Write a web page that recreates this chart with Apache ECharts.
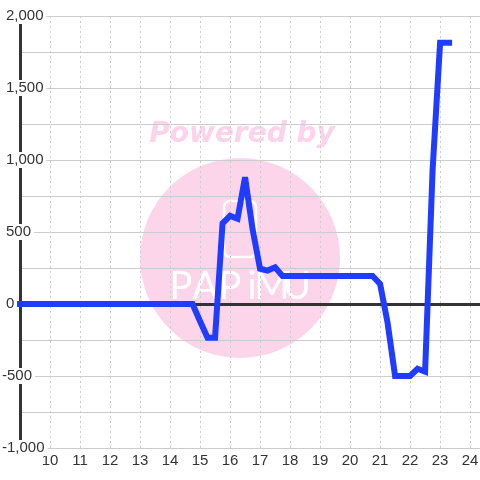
<!DOCTYPE html>
<html>
<head>
<meta charset="utf-8">
<script src="https://cdn.jsdelivr.net/npm/echarts@6/dist/echarts.min.js"></script>
<style>
html,body{margin:0;padding:0;background:#fff;}
#chart{width:480px;height:480px;}
</style>
</head>
<body>
<div id="chart"></div>
<script>
// Time of day (hours) and values
var times  = [9, 14.75, 15, 15.25, 15.5, 15.75, 16, 16.25, 16.5, 16.75, 17, 17.25, 17.5, 17.75, 20.75, 21, 21.25, 21.5, 22, 22.25, 22.5, 22.75, 23, 23.3];
var values = [0, 0, -120, -235, -235, 560, 612, 592, 880, 520, 245, 232, 255, 195, 195, 140, -130, -500, -500, -450, -470, 930, 1815, 1815];
var xMin = 9, xMax = 24.33, xStep = 1;
var yMin = -1000, yMax = 2000, yStep = 500;
var logoLetters = ['P', 'A', 'P', 'i', 'M', 'U'];

var data = times.map(function (t, i) { return [t, values[i]]; });
var labelFont = 'Liberation Sans, Arial, sans-serif';

function yFmt(v) {
  var s = Math.abs(v).toLocaleString('en-US');
  if (v < 0) return '{n|-' + s + '}';
  return '{p|' + s + '}';
}

var letterX = [181, 205, 230, 252, 272, 297];
var graphics = [
  {type: 'circle', z: -10, shape: {cx: 240, cy: 258, r: 100}, style: {fill: '#fcd5ea'}, silent: true},
  {type: 'text', z: -10, silent: true, style: {text: 'Powered by', x: 242, y: 135, textAlign: 'center', textVerticalAlign: 'middle', font: 'italic bold 28px "DejaVu Sans"', fill: '#fcd3ea'}},
  {type: 'rect', z: -9, silent: true, shape: {x: 224, y: 201, width: 32, height: 56, r: 6}, style: {fill: 'none', stroke: '#ffffff', lineWidth: 2.5}}
];
logoLetters.forEach(function (ch, i) {
  graphics.push({type: 'text', z: -9, silent: true, style: {text: ch, x: letterX[i], y: 287, textAlign: 'center', textVerticalAlign: 'middle', font: '400 38px Lato', fill: '#ffffff'}});
});

var chart = echarts.init(document.getElementById('chart'), null, {renderer: 'canvas'});
chart.setOption({
  animation: false,
  backgroundColor: '#ffffff',
  grid: {left: 20, right: 0, top: 16, bottom: 32, containLabel: false, outerBoundsMode: 'none'},
  graphic: {elements: graphics},
  xAxis: [
    {
      type: 'value', min: xMin, max: xMax, interval: xStep, position: 'bottom',
      axisLine: {show: false}, axisTick: {show: false},
      splitLine: {show: true, lineStyle: {color: '#cccccc', width: 1, type: [2, 3]}},
      axisLabel: {
        show: true, margin: 5, fontSize: 15, color: '#333333', fontFamily: labelFont,
        showMinLabel: false, showMaxLabel: false,
        formatter: function (v) { return (Math.abs(v - Math.round(v)) < 1e-6 && v >= 10) ? String(Math.round(v)) : ''; }
      }
    },
    {
      type: 'value', min: xMin, max: xMax, interval: xStep, position: 'bottom',
      axisLine: {show: true, onZero: true, onZeroAxisIndex: 0, lineStyle: {color: '#333333', width: 3}},
      axisTick: {show: false}, axisLabel: {show: false}, splitLine: {show: false}
    }
  ],
  yAxis: [
    {
      type: 'value', min: yMin, max: yMax, interval: yStep,
      axisLine: {show: false}, axisTick: {show: false}, axisLabel: {show: false},
      splitLine: {show: true, lineStyle: {color: '#cccccc', width: 1}},
      minorTick: {show: false, splitNumber: 2},
      minorSplitLine: {show: true, lineStyle: {color: '#cccccc', width: 1}}
    },
    {
      type: 'value', min: yMin, max: yMax, interval: yStep, position: 'left', offset: 0, z: 5,
      axisLine: {show: true, onZero: false, lineStyle: {color: '#333333', width: 3}},
      axisTick: {show: false}, splitLine: {show: false},
      axisLabel: {
        show: true, margin: 18, align: 'left', verticalAlign: 'middle',
        backgroundColor: '#ffffff', padding: [0, 3, 0, 0], lineHeight: 16,
        fontSize: 15, color: '#333333', fontFamily: labelFont,
        formatter: yFmt,
        rich: {
          p: {padding: [0, 0, 0, 4], fontSize: 15, color: '#333333', fontFamily: labelFont, lineHeight: 16},
          n: {fontSize: 15, color: '#333333', fontFamily: labelFont, lineHeight: 16}
        }
      }
    }
  ],
  series: [{
    type: 'line', xAxisIndex: 0, yAxisIndex: 0, z: 6,
    data: data, symbol: 'none', showSymbol: false,
    lineStyle: {color: '#1f3cff', width: 6, cap: 'square', join: 'miter', miterLimit: 4}
  }]
});
</script>
</body>
</html>
